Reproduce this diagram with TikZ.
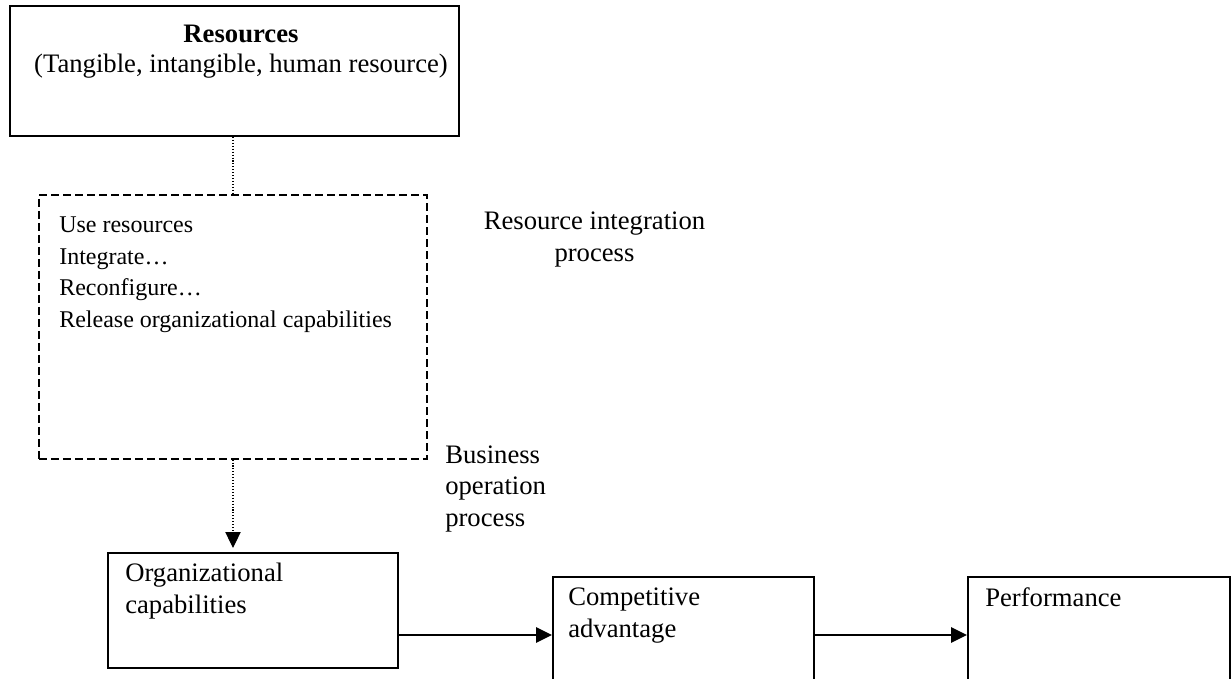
\documentclass[tikz,border=0pt]{standalone}
\usepackage{fontspec}
\setmainfont{Liberation Serif}
\usetikzlibrary{arrows.meta}
\begin{document}
\begin{tikzpicture}[x=0.75pt,y=-0.75pt,
  box/.style={draw,line width=1.5pt,inner sep=0pt,anchor=north west},
  dbox/.style={draw,line width=1.2pt,dash pattern=on 6pt off 3pt,inner sep=0pt,anchor=north west},
  big/.style={font=\fontsize{20pt}{23.3pt}\selectfont,inner sep=0pt},
  small/.style={font=\fontsize{18pt}{23.6pt}\selectfont,inner sep=0pt},
  dotline/.style={line width=0.8pt,dash pattern=on 0.8pt off 1.4pt},
  tip/.style={-{Triangle[length=12pt,width=11.5pt]}},
  harrow/.style={line width=1.3pt,-{Triangle[length=12pt,width=11.5pt]}}]
\useasboundingbox (0,0) rectangle (1231,678);
\clip (0,0) rectangle (1231,678);
% boxes
\node[box,minimum width=449*0.75pt,minimum height=130*0.75pt] (res) at (9,5) {};
\node[dbox,minimum width=388*0.75pt,minimum height=264*0.75pt] (int) at (38,194) {};
\node[box,minimum width=290*0.75pt,minimum height=115*0.75pt] (org) at (107,552) {};
\node[box,minimum width=261*0.75pt,minimum height=140*0.75pt] (comp) at (552,576) {};
\node[box,minimum width=262*0.75pt,minimum height=140*0.75pt] (perf) at (967,576) {};
% texts
\node[big,anchor=base,font=\fontsize{20pt}{23.3pt}\selectfont\bfseries] (t1) at (241,42) {Resources};
\node[big,anchor=base] (t2) at (241,72) {(Tangible, intangible, human resource)};
\node[small,anchor=base west,align=left] (t3) at (59,327) {Use resources\\Integrate…\\Reconfigure…\\Release organizational capabilities};
\node[big,anchor=base,align=center] (t4) at (594.5,261) {Resource integration\\process};
\node[big,anchor=base west,align=left] (t5) at (445,526) {Business\\operation\\process};
\node[big,anchor=base west,align=left] (t6) at (125,613) {Organizational\\capabilities};
\node[big,anchor=base west,align=left] (t7) at (568,637) {Competitive\\advantage};
\node[big,anchor=base west] (t8) at (985,606) {Performance};
% connectors
\draw[dotline] (res.south) ++(-1.5,0) coordinate (a1) -- (a1 |- int.north);
\draw[dotline,tip,shorten >=3pt] (a1 |- int.south) -- (a1 |- org.north);
\draw[harrow] (org.east |- 0,635) -- (comp.west |- 0,635);
\draw[harrow] (comp.east |- 0,635) -- (perf.west |- 0,635);
\end{tikzpicture}
\end{document}
